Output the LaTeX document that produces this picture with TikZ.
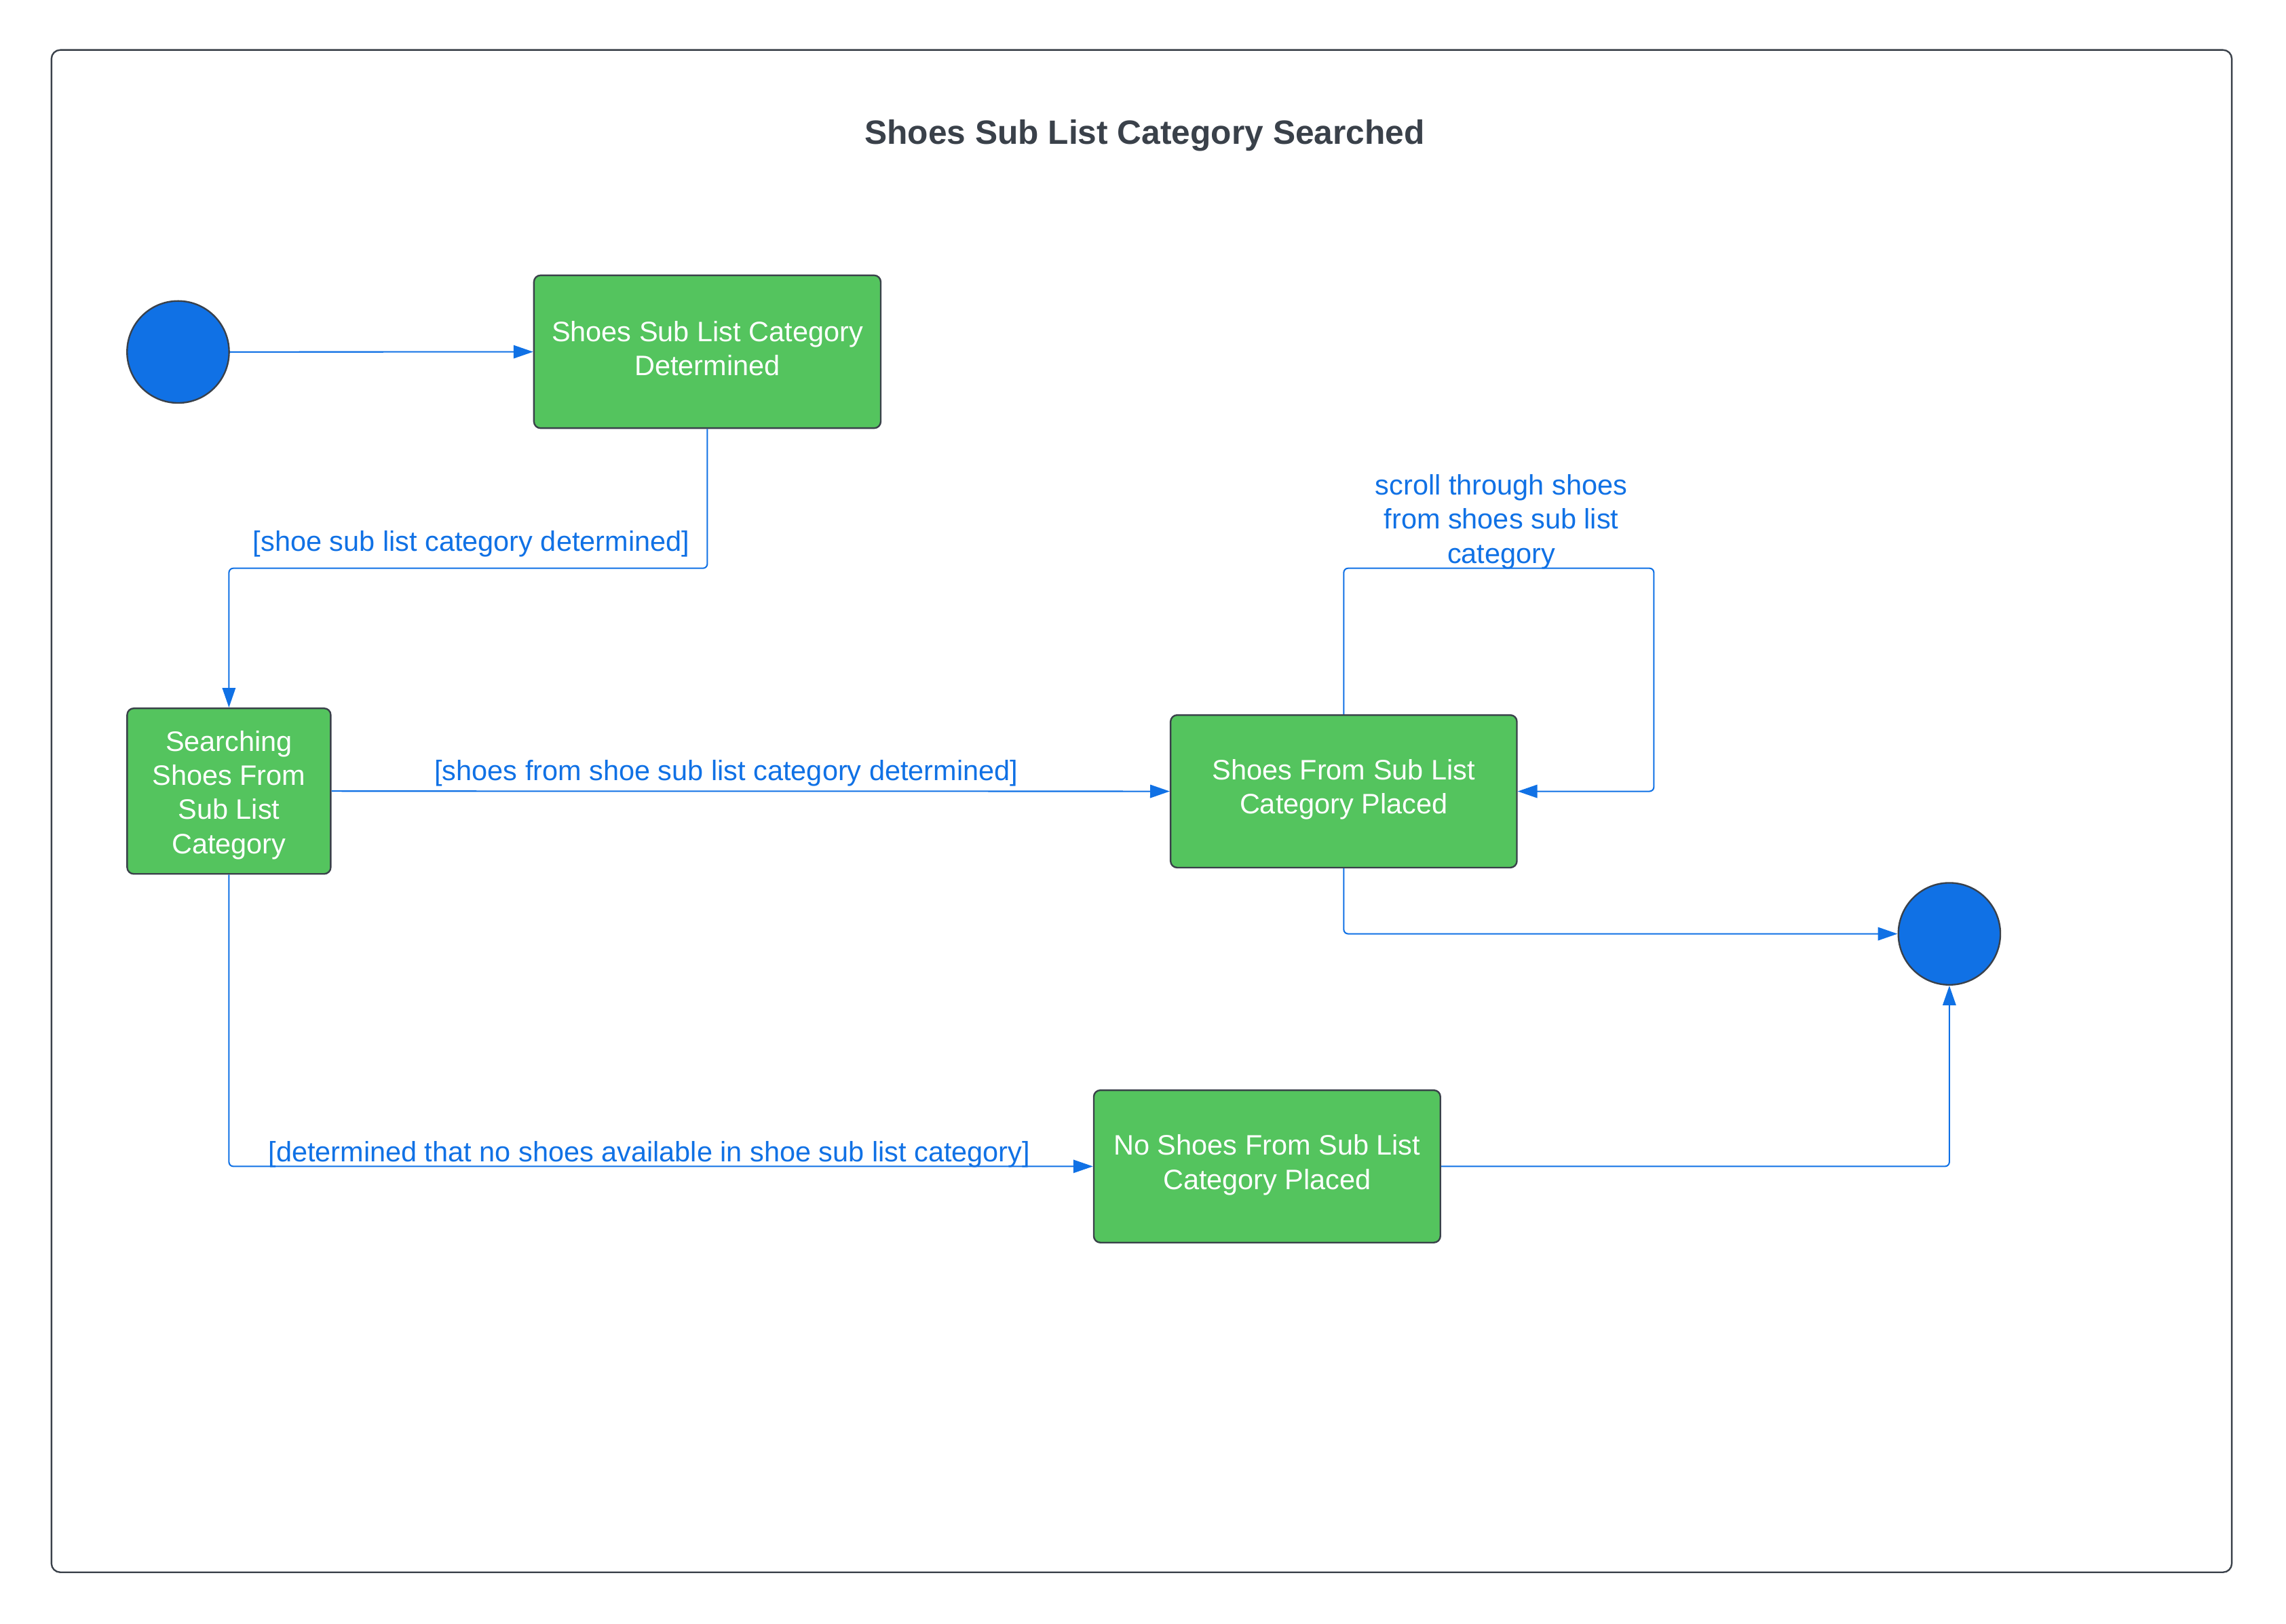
\documentclass[tikz,border=0pt]{standalone}
\usepackage{fontspec}
\setmainfont{Liberation Sans}
\usetikzlibrary{arrows.meta}
\definecolor{lgreen}{HTML}{54C45E}
\definecolor{lblue}{HTML}{1071E5}
\definecolor{lgray}{HTML}{3A414A}
\tikzset{
  statebox/.style={draw=lgray, line width=1.1pt, fill=lgreen, rounded corners=4.5pt,
    text=white, align=center, inner sep=0pt,
    font=\fontsize{19.2pt}{23.3pt}\selectfont},
  pseudo/.style={circle, draw=lgray, line width=1.1pt, fill=lblue, inner sep=0pt,
    minimum size=69.6pt},
  conn/.style={draw=lblue, line width=0.95pt, rounded corners=3pt,
    -{Triangle[length=13.4pt, width=9pt]}},
  edgelabel/.style={text=lblue, inner sep=0pt, anchor=base,
    font=\fontsize{19.2pt}{23.3pt}\selectfont},
  titlestyle/.style={text=lgray, inner sep=0pt, anchor=base,
    font=\fontsize{23pt}{27.6pt}\selectfont\bfseries},
  frame/.style={draw=lgray, line width=1.1pt, rounded corners=6pt}
}
\begin{document}
\begin{tikzpicture}[x=1pt, y=-1pt]
\useasboundingbox (0,0) rectangle (1559.7,1108.3);
\draw[frame] (35.1,34.1) rectangle (1522.7,1073);

\node[titlestyle] (title) at (781,98.6) {Shoes Sub List Category Searched};

% nodes
\node[pseudo] (start) at (121.5,240.2) {};
\node[pseudo] (end) at (1330,637.3) {};
\node[statebox, minimum width=236.6pt, minimum height=104.3pt] (b1) at (482.6,240.05)
  {Shoes Sub List Category\strut\\Determined\strut};
\node[statebox, minimum width=138.9pt, minimum height=113pt] (b2) at (156.2,539.9)
  {\rule{0pt}{22.3pt}Searching\strut\\Shoes From\strut\\Sub List\strut\\Category\strut};
\node[statebox, minimum width=236.3pt, minimum height=104.1pt] (b3) at (916.8,540.05)
  {Shoes From Sub List\strut\\Category Placed\strut\rule[-9pt]{0pt}{0pt}};
\node[statebox, minimum width=236.5pt, minimum height=104pt] (b4) at (864.5,796)
  {No Shoes From Sub List\strut\\Category Placed\strut\rule[-8.5pt]{0pt}{0pt}};

% helper coordinates
\coordinate (ytop) at (0,387.8);
\coordinate (xloop) at (1128.4,0);

% connectors
\draw[conn] (start) -- (b1);
\draw[conn] (b1.south) -- (b1.south |- ytop) -- (b2.north |- ytop) -- (b2.north);
\draw[conn] (b2.east) -- (b3.west);
\draw[conn] (b3.north) -- (b3.north |- ytop) -- (xloop |- ytop) -- (xloop |- b3.east) -- (b3.east);
\draw[conn] (b3.south) -- (b3.south |- end.west) -- (end.west);
\draw[conn] (b2.south) -- (b2.south |- b4.west) -- (b4.west);
\draw[conn] (b4.east) -- (end.south |- b4.east) -- (end.south);

% labels
\node[edgelabel] (l1) at (321.5,376.2) {[shoe sub list category determined]};
\node[edgelabel] (l2) at (495.5,532.5) {[shoes from shoe sub list category determined]};
\node[edgelabel] (l3) at (443,792.6) {[determined that no shoes available in shoe sub list category]};
\node[edgelabel, align=center, anchor=center] (l4) at (1024.3,356.3)
  {scroll through shoes\strut\\from shoes sub list\strut\\category\strut};
\end{tikzpicture}
\end{document}
